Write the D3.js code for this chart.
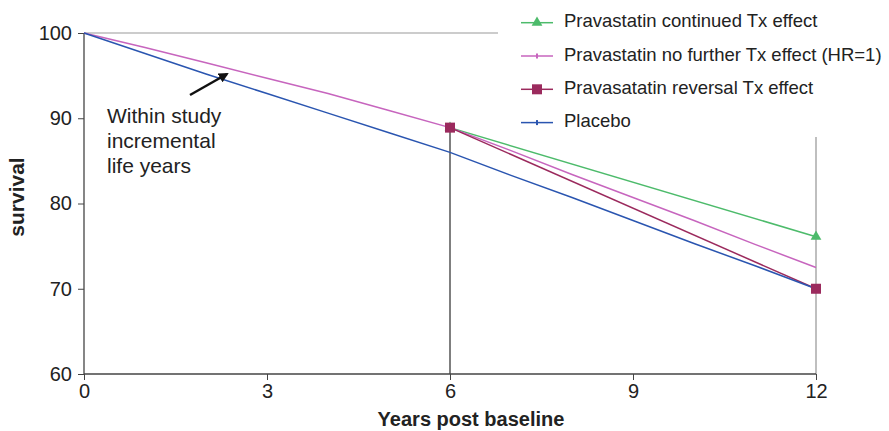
<!DOCTYPE html>
<html>
<head>
<meta charset="utf-8">
<script src="https://cdn.jsdelivr.net/npm/d3@7"></script>
<style>
  body { margin: 0; background: #fff; }
  svg { font-family: "Liberation Sans", Arial, sans-serif; }
</style>
</head>
<body>
<script>
// survival curves, years post baseline
const years = [0, 1, 2, 3, 4, 5, 6, 7, 8, 9, 10, 11, 12]
const placebo = [100, 97.6, 95.2, 92.9, 90.6, 88.3, 86.0, 83.3, 80.7, 78.0, 75.3, 72.7, 70.0]
const pravaNoFurther = [100, 98.3, 96.5, 94.7, 92.9, 90.9, 88.9, 86.2, 83.4, 80.7, 78.0, 75.2, 72.5]
const pravaContinuedX = [6, 12]
const pravaContinued = [88.9, 76.1]
const pravaReversalX = [6, 12]
const pravaReversal = [88.9, 70.0]

const xTicks = [0, 3, 6, 9, 12]
const yTicks = [60, 70, 80, 90, 100]

const legendLabels = [
  "Pravastatin continued Tx effect",
  "Pravastatin no further Tx effect (HR=1)",
  "Pravasatatin reversal Tx effect",
  "Placebo"
]

const W = 889, H = 431

const svg = d3.select("body").append("svg")
  .attr("width", W).attr("height", H)

const x = d3.scaleLinear().domain([0, 12]).range([84, 816])
const y = d3.scaleLinear().domain([60, 100]).range([374, 33])

const line = d3.line().x(d => x(d[0])).y(d => y(d[1]))

// reference lines
svg.append("line")
  .attr("x1", x(0)).attr("x2", 498)
  .attr("y1", y(100)).attr("y2", y(100))
  .attr("stroke", "#999").attr("stroke-width", 1.2)
svg.append("line")
  .attr("x1", x(6)).attr("x2", x(6))
  .attr("y1", y(88.9)).attr("y2", y(60))
  .attr("stroke", "#555").attr("stroke-width", 1.5)
svg.append("line")
  .attr("x1", x(12)).attr("x2", x(12))
  .attr("y1", 137).attr("y2", y(60))
  .attr("stroke", "#aaa").attr("stroke-width", 1.5)

// axes
const yAxis = svg.append("g")
  .attr("transform", `translate(${x(0)},0)`)
  .call(d3.axisLeft(y).tickValues(yTicks).tickSize(6).tickPadding(6))
const xAxis = svg.append("g")
  .attr("transform", `translate(0,${y(60)})`)
  .call(d3.axisBottom(x).tickValues(xTicks).tickSize(6).tickPadding(4))
;[yAxis, xAxis].forEach(g => {
  g.select(".domain").attr("stroke", "#444").attr("stroke-width", 1.3)
  g.selectAll(".tick line").attr("stroke", "#444")
  g.selectAll(".tick text").attr("fill", "#222").style("font-size", "20px")
    .style("font-family", "Liberation Sans, Arial, sans-serif")
})
xAxis.select(".domain").attr("d", `M${x(0)},0H${x(12)}`)
yAxis.select(".domain").attr("d", `M0,${y(60)}V${y(100)}`)

// series
const series = [
  { xs: pravaContinuedX, ys: pravaContinued, color: "#4dbb6b", marker: "triangle" },
  { xs: years, ys: pravaNoFurther, color: "#c765be", marker: "dash" },
  { xs: pravaReversalX, ys: pravaReversal, color: "#9b2a5d", marker: "square" },
  { xs: years, ys: placebo, color: "#2a55b0", marker: "dash" }
]

series.forEach(s => {
  svg.append("path")
    .datum(s.xs.map((v, i) => [v, s.ys[i]]))
    .attr("d", line)
    .attr("fill", "none")
    .attr("stroke", s.color)
    .attr("stroke-width", 1.5)
})

function marker(g, type, color, cx, cy) {
  if (type == "triangle") {
    g.append("path")
      .attr("d", d3.symbol(d3.symbolTriangle, 50)())
      .attr("transform", `translate(${cx},${cy})`)
      .attr("fill", color)
  } else if (type == "square") {
    g.append("rect")
      .attr("x", cx - 5).attr("y", cy - 5)
      .attr("width", 10).attr("height", 10)
      .attr("fill", color)
  } else {
    g.append("rect")
      .attr("x", cx - 1).attr("y", cy - 2.5)
      .attr("width", 2).attr("height", 5)
      .attr("fill", color)
  }
}

// markers at 6 and 12 on top
series.forEach(s => {
  if (s.marker == "dash") return
  s.xs.forEach((v, i) => marker(svg, s.marker, s.color, x(v), y(s.ys[i])))
})

// legend
const legend = svg.append("g")
legendLabels.forEach((lab, i) => {
  const ly = 22.7 + i * 33.3
  legend.append("line")
    .attr("x1", 521).attr("x2", 553).attr("y1", ly).attr("y2", ly)
    .attr("stroke", series[i].color).attr("stroke-width", 1.5)
  marker(legend, series[i].marker, series[i].color, 537, ly)
  legend.append("text")
    .attr("x", 564).attr("y", ly + 4.5)
    .attr("fill", "#222")
    .style("font-size", "18.5px")
    .text(lab)
})

// annotation
const note = svg.append("text")
  .attr("x", 107).attr("fill", "#222").style("font-size", "21px")
;["Within study", "incremental", "life years"].forEach((t, i) => {
  note.append("tspan").attr("x", 107).attr("y", 123 + i * 25).text(t)
})
svg.append("defs").append("marker")
  .attr("id", "arr").attr("viewBox", "0 0 10 10")
  .attr("refX", 8).attr("refY", 5)
  .attr("markerWidth", 4).attr("markerHeight", 4)
  .attr("orient", "auto")
  .append("path").attr("d", "M0,0L10,5L0,10z").attr("fill", "#111")
svg.append("line")
  .attr("x1", 190).attr("y1", 95).attr("x2", 227).attr("y2", 74)
  .attr("stroke", "#111").attr("stroke-width", 2.5)
  .attr("marker-end", "url(#arr)")

// axis titles
svg.append("text")
  .attr("transform", `translate(24,197) rotate(-90)`)
  .attr("text-anchor", "middle")
  .style("font-size", "21px").style("font-weight", "bold")
  .attr("fill", "#222")
  .text("survival")
svg.append("text")
  .attr("x", 471).attr("y", 426)
  .attr("text-anchor", "middle")
  .style("font-size", "20px").style("font-weight", "bold")
  .attr("fill", "#222")
  .text("Years post baseline")
</script>
</body>
</html>
